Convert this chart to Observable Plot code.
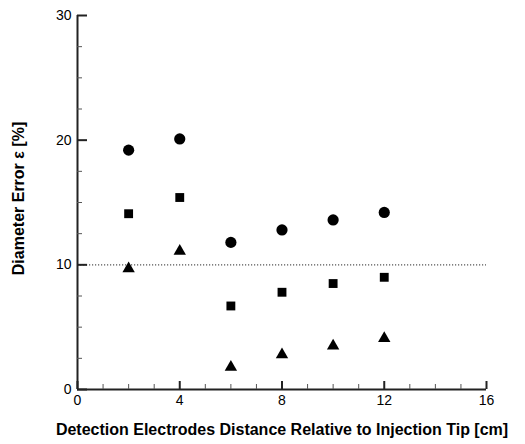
<!DOCTYPE html>
<html>
<head>
<meta charset="utf-8">
<script src="https://cdn.jsdelivr.net/npm/d3@7"></script>
<script src="https://cdn.jsdelivr.net/npm/@observablehq/plot@0.6"></script>
<style>
  html, body { margin: 0; padding: 0; background: white; }
</style>
</head>
<body>
<div id="chart"></div>
<script>
const distance = [2, 4, 6, 8, 10, 12];
const circleSeries = [19.2, 20.1, 11.8, 12.8, 13.6, 14.2];
const squareSeries = [14.1, 15.4, 6.7, 7.8, 8.5, 9.0];
const triangleSeries = [9.7, 11.1, 1.8, 2.8, 3.5, 4.1];
const xMajor = [0, 4, 8, 12, 16];
const xMinor = [1, 2, 3, 5, 6, 7, 9, 10, 11, 13, 14, 15];
const yMajor = [0, 10, 20, 30];
const yMinor = [2.5, 5, 7.5, 12.5, 15, 17.5, 22.5, 25, 27.5];
const referenceLine = [10];
const xLabel = "Detection Electrodes Distance Relative to Injection Tip [cm]";
const yLabel = "Diameter Error \u03b5 [%]";

const pts = (vals) => distance.map((d, i) => ({x: d, y: vals[i]}));
const xMin = xMajor[0], xMax = xMajor[xMajor.length - 1];
const yMin = yMajor[0], yMax = yMajor[yMajor.length - 1];

const chart = Plot.plot({
  width: 525,
  height: 444,
  marginLeft: 77,
  marginRight: 39,
  marginTop: 15,
  marginBottom: 55,
  style: {fontFamily: "'Liberation Sans', Arial, sans-serif", fontSize: "14px", background: "white", color: "black"},
  x: {domain: [xMin, xMax]},
  y: {domain: [yMin, yMax]},
  marks: [
    Plot.ruleY(referenceLine, {x1: xMin, x2: xMax, stroke: "#555", strokeWidth: 1.2, strokeDasharray: "1.2,1.8"}),
    // axis lines
    Plot.ruleY([yMin], {x1: xMin, x2: xMax, stroke: "#222", strokeWidth: 2}),
    Plot.ruleX([xMin], {y1: yMin, y2: yMax, stroke: "#222", strokeWidth: 2}),
    // x ticks
    Plot.axisX({ticks: xMajor, tickSize: -8, fill: "none", stroke: "#222", strokeWidth: 2, label: null}),
    Plot.axisX({ticks: xMinor, tickSize: -5, fill: "none", stroke: "#555", strokeWidth: 1, label: null}),
    Plot.axisX({ticks: xMajor, tickSize: 0, tickPadding: 6, fontSize: 14, label: null}),
    // y ticks
    Plot.axisY({ticks: yMajor, tickSize: -10, fill: "none", stroke: "#222", strokeWidth: 2, label: null}),
    Plot.axisY({ticks: yMinor, tickSize: -5, fill: "none", stroke: "#555", strokeWidth: 1, label: null}),
    Plot.axisY({ticks: yMajor, tickSize: 0, tickPadding: 6, fontSize: 14, label: null}),
    // data
    Plot.dot(pts(circleSeries), {x: "x", y: "y", symbol: "circle", r: 5.6, fill: "black", stroke: "none"}),
    Plot.dot(pts(squareSeries), {x: "x", y: "y", symbol: "square", r: 5, fill: "black", stroke: "none"}),
    Plot.dot(pts(triangleSeries), {x: "x", y: "y", symbol: "triangle", r: 4.6, fill: "black", stroke: "none"}),
    // labels
    Plot.text([xLabel], {frameAnchor: "bottom", dy: 45, dx: 0, textAnchor: "middle", fontSize: 16, fontWeight: "bold", fill: "black"}),
    Plot.text([yLabel], {frameAnchor: "left", rotate: -90, dx: -59, dy: -4, textAnchor: "middle", fontSize: 16, fontWeight: "bold", fill: "black"})
  ]
});
document.getElementById("chart").appendChild(chart);
</script>
</body>
</html>
